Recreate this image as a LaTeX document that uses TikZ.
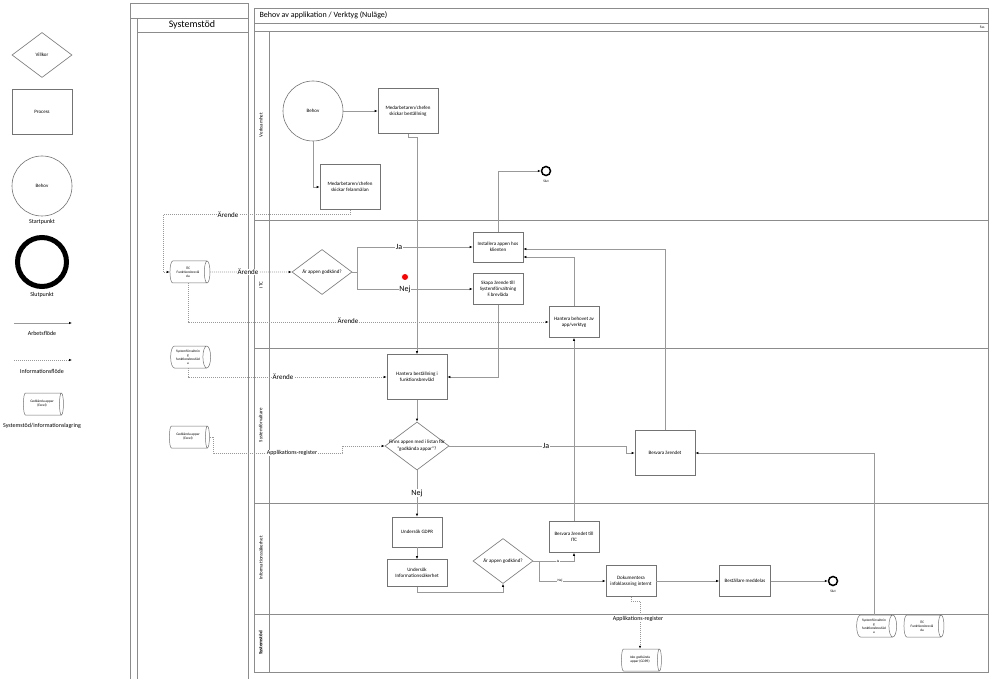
\documentclass[tikz,border=0pt]{standalone}
\usepackage{fontspec}
\setmainfont{Carlito}
\usetikzlibrary{shapes.geometric,arrows.meta}

\begin{document}
\begin{tikzpicture}[x=1pt, y=-1pt,
            lane/.style={draw=black!45, line width=0.8pt},
            proc/.style={draw=black!55, line width=0.6pt, fill=white, minimum width=60pt, minimum height=45pt, inner sep=1pt, align=center, font=\fontsize{5}{6}\selectfont},
            cond/.style={diamond, draw=black!55, line width=0.6pt, fill=white, aspect=1.33, minimum width=60pt, minimum height=45pt, inner sep=0pt, align=center, font=\fontsize{5}{6}\selectfont},
            startc/.style={circle, draw=black!55, line width=0.6pt, minimum size=60pt, font=\fontsize{5}{6}\selectfont},
            slutc/.style={circle, draw, line width=1.5pt, minimum size=9pt, inner sep=0pt},
            cyl/.style={cylinder, draw=black!55, line width=0.5pt, fill=white, shape aspect=0.5, minimum height=40pt, minimum width=22pt, inner sep=0.5pt, align=center, font=\fontsize{3.5}{4}\selectfont},
            flow/.style={draw=black!40, line width=0.6pt, -{Latex[black, length=3pt, width=2.4pt]}},
            info/.style={flow, dash pattern=on 1pt off 1pt},
            lbl/.style={fill=white, inner sep=0.5pt, font=\fontsize{7}{8}\selectfont},
            small/.style={font=\fontsize{3.5}{4}\selectfont},
            lgtxt/.style={font=\fontsize{6}{7}\selectfont},
            lanetxt/.style={rotate=90, font=\fontsize{5}{6}\selectfont}
            ]
            \useasboundingbox (0,0) rectangle (991,679);

            \node[cond] (lvillkor) at (42,55) {Villkor};
            \node[proc] (lprocess) at (42,112) {Process};
            \node[startc] (lbehov) at (42,186) {Behov};
            \node[lgtxt] (lstart) at (42,222) {Startpunkt};
            \node[circle, draw, line width=5pt, minimum size=49pt] (lslut) at (42,262) {};
            \node[lgtxt] (lslutp) at (42,295) {Slutpunkt};
            \coordinate (la1) at (14,323);
            \coordinate (la2) at (72,323);
            \node[lgtxt] (larb) at (42,333) {Arbetsflöde};
            \coordinate (li1) at (14,360);
            \coordinate (li2) at (72,360);
            \node[lgtxt] (linfo) at (42,371) {Informationsflöde};
            \node[cyl] (lcyl) at (42,404) {Godkända appar\\(Excel)};
            \node[lgtxt] (lsys) at (42,426) {Systemstöd/informationslagring};
            \draw[flow] (la1) -- (la2);
            \draw[info] (li1) -- (li2);

            \draw[lane] (130,3) rectangle (248,682);
            \draw[lane] (130,18) -- (248,18);
            \draw[lane] (137,18) -- (137,682);
            \draw[lane] (137,32) -- (248,32);
            \node[font=\fontsize{10}{12}\selectfont] (hsys) at (192,25) {Systemstöd};

            \draw[lane] (254,8) rectangle (988,672);
            \draw[lane] (254,23) -- (988,23);
            \draw[lane] (254,31) -- (988,31);
            \draw[lane] (269,31) -- (269,672);
            \draw[lane] (254,220) -- (988,220);
            \draw[lane] (254,348) -- (988,348);
            \draw[lane] (254,503) -- (988,503);
            \draw[lane] (254,614) -- (988,614);
            \node[anchor=west, font=\fontsize{8}{10}\selectfont] (titel) at (256,15.5) {Behov av applikation / Verktyg (Nuläge)};
            \node[anchor=east, small] (fas) at (988,27) {Fas};
            \node[lanetxt] (lverk) at (261,125) {Verksamhet};
            \node[lanetxt] (litc) at (261,285) {ITC};
            \node[lanetxt] (lsysf) at (261,425) {Systemförvaltare};
            \node[lanetxt] (linfs) at (261,558) {Informationssäkerhet};
            \node[lanetxt, font=\fontsize{5}{6}\selectfont\bfseries] (lsyst) at (261,643) {Systemstöd};

            \node[cyl] (itc1) at (188,272) {ITC\\Funktionsbrevlå\\da};
            \node[cyl] (sfb1) at (188,357) {Systemförvaltnin\\g\\funktionsbrevlåd\\a};
            \node[cyl] (gapp) at (188,437) {Godkända appar\\(Excel)};

            \node[startc] (behov) at (313,111) {Behov};
            \node[proc] (bestall) at (408,111) {Medarbetaren/chefen\\skickar beställning};
            \node[proc] (felanm) at (350,187) {Medarbetaren/chefen\\skickar felanmälan};
            \node[slutc] (slut1) at (546,171) {};
            \node[small] (slut1t) at (546,181) {Slut};

            \node[cond] (godk1) at (322,272) {Är appen godkänd?};
            \node[proc, minimum width=50pt, minimum height=30pt] (install) at (498,247) {Installera appen hos\\klienten};
            \node[proc, minimum width=50pt, minimum height=31pt] (skapa) at (498,289) {Skapa ärende till\\Systemförvaltning\\F.brevlåda};
            \node[proc, minimum width=50pt, minimum height=31pt] (hbehov) at (574,322) {Hantera behovet av\\app/verktyg};
            \node[circle, fill=red, minimum size=6pt, inner sep=0pt] (rod) at (405,277) {};

            \node[proc] (hbest) at (417,377) {Hantera beställning i\\funktionsbrevlåd};
            \node[cond, minimum width=64pt, minimum height=48pt] (finns) at (417,446) {\makebox[0pt]{\shortstack{Finns appen med i listan för\\"godkända appar"?}}};
            \node[proc] (besvara) at (665,453) {Besvara ärendet};

            \node[proc, minimum width=50pt, minimum height=30pt] (gdpr) at (417,532) {Undersök GDPR};
            \node[proc, minimum height=27pt] (infosak) at (417,573) {Undersök\\Informationssäkerhet};
            \node[cond] (godk2) at (503,561) {Är appen godkänd?};
            \node[proc, minimum width=50pt, minimum height=31pt] (bitc) at (574,537) {Besvara ärendet till\\ITC};
            \node[proc, minimum width=50pt, minimum height=31pt] (dok) at (631,581) {Dokumentera\\infoklassning internt};
            \node[proc, minimum width=51pt, minimum height=31pt] (bmedd) at (745,581) {Beställare meddelas};
            \node[slutc] (slut2) at (833,581) {};
            \node[small] (slut2t) at (833,591) {Slut};

            \node[cyl] (icke) at (640,660) {Icke godkända\\appar (GDPR)};
            \node[cyl] (sfb2) at (874,626) {Systemförvaltnin\\g\\funktionsbrevlåd\\a};
            \node[cyl] (itc2) at (922,626) {ITC\\Funktionsbrevlå\\da};

            \coordinate (k1) at (163,272);
            \coordinate (k2) at (342,453);

            \draw[flow] (behov.east) -- (behov.east -| bestall.west);
            \draw[flow] (behov.south) |- (felanm.west);
            \draw[flow] (bestall.south) -- ++(0,4) -| (hbest.north);
            \draw[info] (felanm.south) -- ++(0,5) -| (k1) -- (itc1.west);
            \draw[info] (itc1.east) -- (godk1.west);
            \draw[flow] (godk1.east) -- ++(5,0) |- (install.west);
            \draw[flow] (godk1.east) -- ++(5,0) |- (skapa.west);
            \draw[info] (itc1.south) |- (hbehov.west);
            \draw[info] (sfb1.south) |- (hbest.west);
            \draw[flow] (skapa.south) |- (hbest.east);
            \draw[flow] (hbest.south) -- (finns.north);
            \draw[info] (gapp.east) -- ++(4,0) |- (k2) |- (finns.west);
            \draw[flow] (finns.east) -- ++(177,0) |- (besvara.west);
            \draw[flow] (finns.south) -- (gdpr.north);
            \draw[flow] (gdpr.south) -- (infosak.north);
            \draw[flow] (infosak.south) -- ++(0,5) -| (godk2.south);
            \draw[flow] (godk2.east) -| (bitc.south);
            \draw[flow] (godk2.east) -- ++(6,0) |- (dok.west);
            \draw[flow] (dok) -- (bmedd);
            \draw[flow] (bmedd) -- (slut2);
            \draw[info] (dok.south) -- ++(0,4) -| (icke.north);
            \draw[flow] (bitc.north) -- (hbehov.south);
            \draw[flow] (hbehov.north) |- ([yshift=-10pt]install.east);
            \draw[flow] (besvara.north) |- ([yshift=-2pt]install.east);
            \draw[flow] (install.north) |- (slut1.west);
            \draw[flow] (sfb2.north) |- (besvara.east);

            \node[lbl] (ar1) at (228,214.5) {Ärende};
            \node[lbl] (ar2) at (248,272) {Ärende};
            \node[lbl] (ar3) at (348,321) {Ärende};
            \node[lbl] (ar4) at (283,377) {Ärende};
            \node[lbl, font=\fontsize{8}{9}\selectfont] (ja1) at (399,247) {Ja};
            \node[lbl, font=\fontsize{8}{9}\selectfont] (nej1) at (405,289) {Nej};
            \node[lbl, font=\fontsize{6}{7}\selectfont] (app1) at (292,453) {Applikations-register};
            \node[lbl, font=\fontsize{8}{9}\selectfont] (ja2) at (546,446) {Ja};
            \node[lbl, font=\fontsize{8}{9}\selectfont] (nej2) at (417,493) {Nej};
            \node[lbl, small] (ja3) at (558,561) {Ja};
            \node[lbl, small] (nej3) at (560,581) {Nej};
            \node[lbl, font=\fontsize{6}{7}\selectfont] (app2) at (638,619) {Applikations-register};

            \end{tikzpicture}
\end{document}
